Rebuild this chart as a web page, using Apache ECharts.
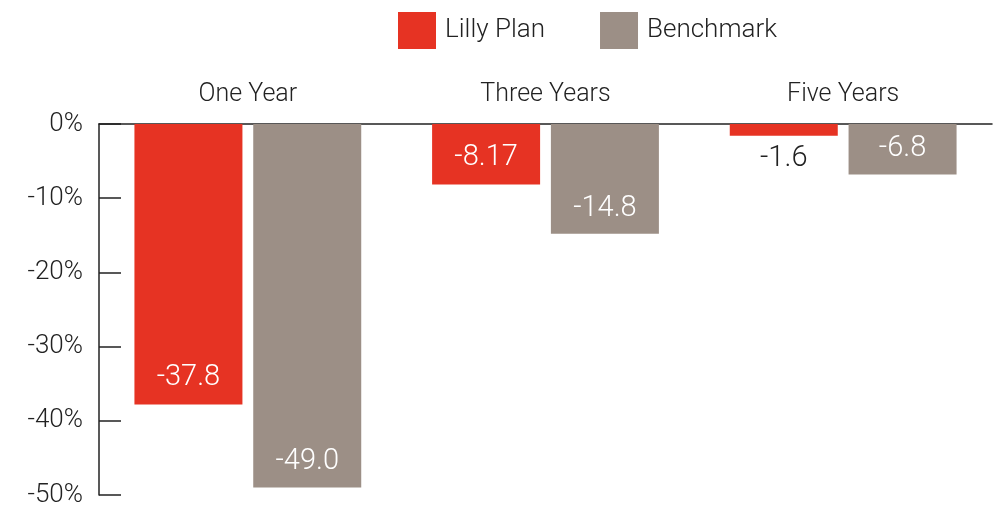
<!DOCTYPE html>
<html>
<head>
<meta charset="utf-8">
<script src="https://cdn.jsdelivr.net/npm/echarts@6/dist/echarts.min.js"></script>
<style>
  html, body { margin: 0; padding: 0; background: #fff; }
  #chart { width: 1003px; height: 511px; }
</style>
</head>
<body>
<div id="chart"></div>
<script>
const categories = ['One Year', 'Three Years', 'Five Years']
const lillyPlan = [-37.8, -8.17, -1.6]
const benchmark = [-49.0, -14.8, -6.8]
const yTicks = [0, -10, -20, -30, -40, -50]

const font = 'Roboto'
const weight = 300
const fmt = v => (Number.isInteger(v) ? v.toFixed(1) : String(v))

const chart = echarts.init(document.getElementById('chart'))

chart.setOption({
  animation: false,
  textStyle: { fontFamily: font, fontWeight: weight },
  legend: {
    left: 393,
    top: 7,
    itemWidth: 38,
    itemHeight: 37,
    itemGap: 55,
    icon: 'rect',
    textStyle: { fontSize: 26, color: '#222', fontFamily: font, fontWeight: weight, padding: [2, 0, 0, 4] },
    data: ['Lilly Plan', 'Benchmark'],
  },
  grid: { left: 99, right: 11, top: 124, bottom: 16, containLabel: false },
  xAxis: {
    type: 'category',
    position: 'top',
    data: categories,
    axisLine: { lineStyle: { color: '#222', width: 1.5 } },
    axisTick: { inside: true, length: 8, lineStyle: { color: '#222', width: 1.5 } },
    axisLabel: { fontSize: 25, color: '#222', fontWeight: weight, margin: 17 },
  },
  yAxis: {
    type: 'value',
    min: yTicks[yTicks.length - 1],
    max: yTicks[0],
    interval: 10,
    axisLine: { show: true, lineStyle: { color: '#222', width: 1.5 } },
    axisTick: { show: true, inside: true, length: 22, lineStyle: { color: '#222', width: 1.5 } },
    splitLine: { show: false },
    axisLabel: { fontSize: 26, color: '#222', fontWeight: weight, margin: 16, formatter: '{value}%' },
  },
  series: [
    {
      name: 'Lilly Plan',
      type: 'bar',
      data: lillyPlan.map((v, i) => ({
        value: v,
        label: i === 2 ? { position: 'bottom', color: '#222', distance: 8 } : undefined,
      })),
      barWidth: 108,
      barGap: '10%',
      itemStyle: { color: '#E63323' },
      label: {
        show: true,
        position: 'insideBottom',
        distance: 12,
        fontSize: 29,
        fontWeight: weight,
        color: '#fff',
        formatter: p => fmt(p.value),
      },
    },
    {
      name: 'Benchmark',
      type: 'bar',
      data: benchmark,
      barWidth: 108,
      barGap: '10%',
      itemStyle: { color: '#9C8F86' },
      label: {
        show: true,
        position: 'insideBottom',
        distance: 11,
        fontSize: 29,
        fontWeight: weight,
        color: '#fff',
        formatter: p => fmt(p.value),
      },
    },
  ],
})
</script>
</body>
</html>
